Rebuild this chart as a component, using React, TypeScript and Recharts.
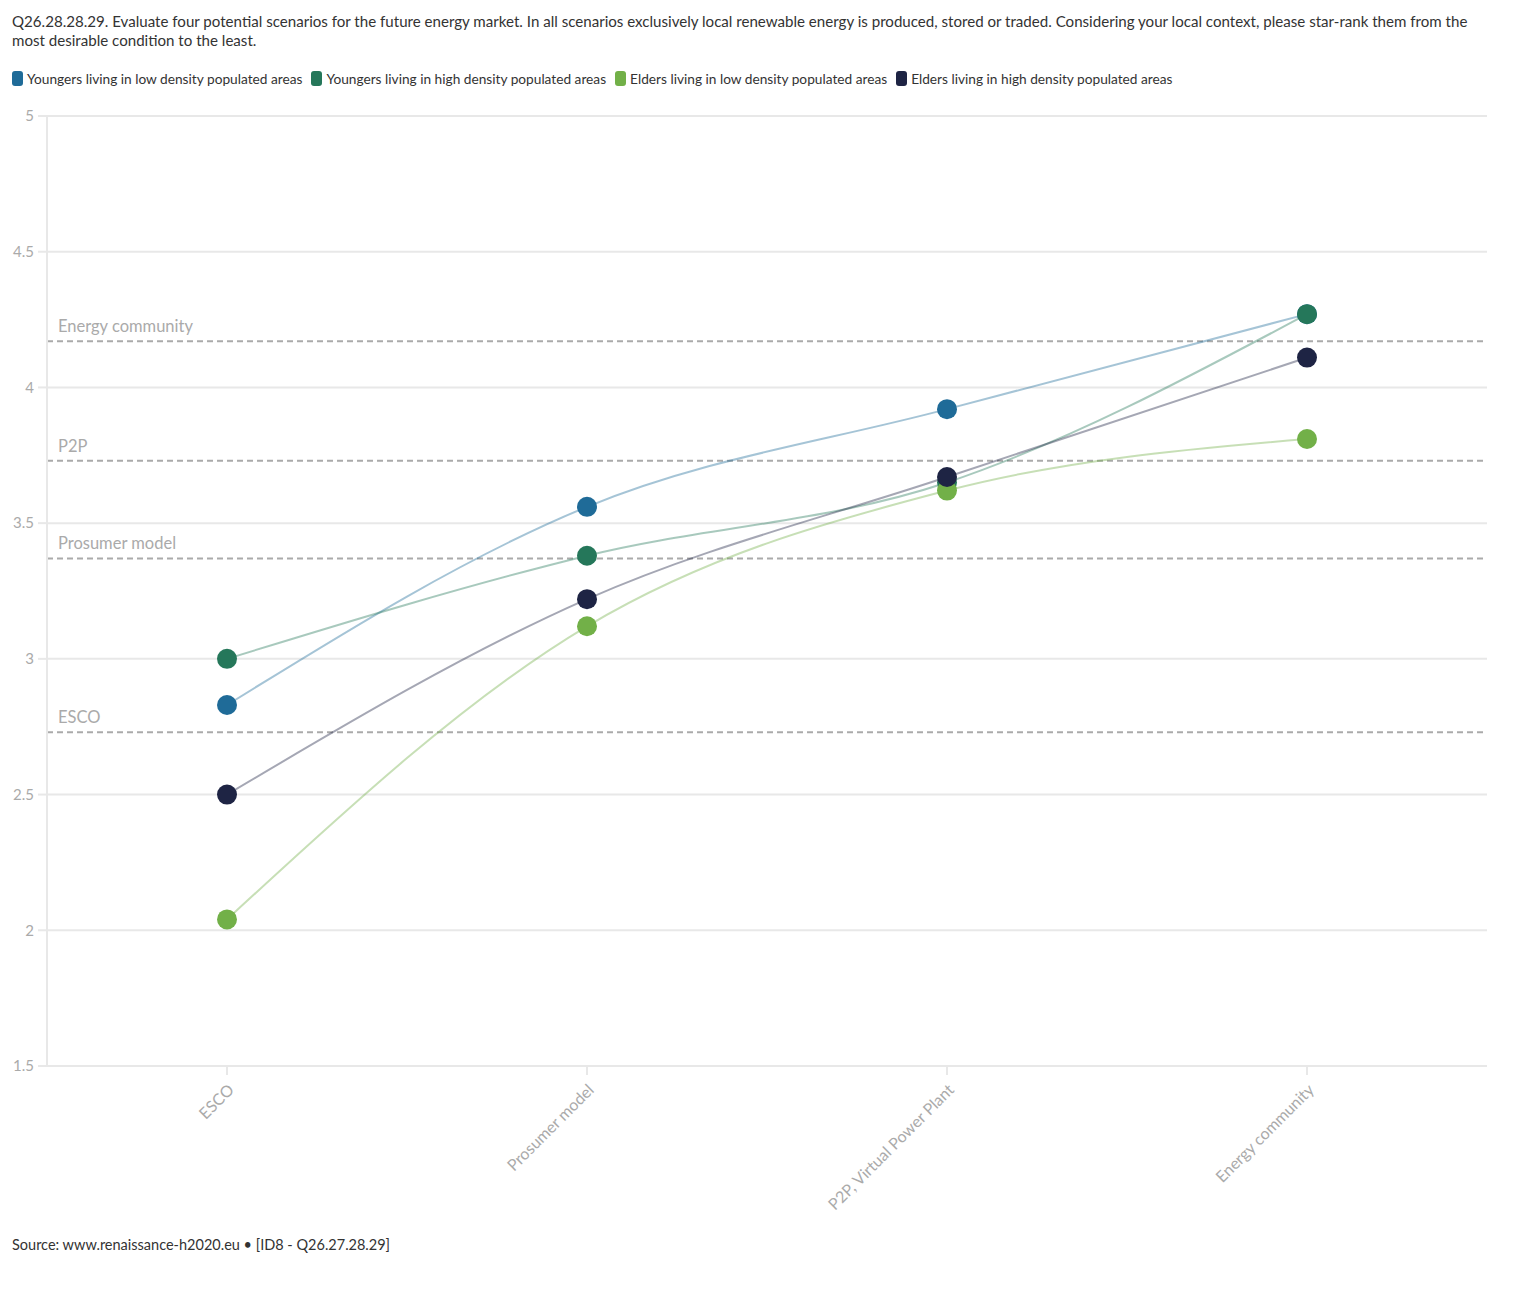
import { LineChart, Line, XAxis, YAxis, CartesianGrid, ReferenceLine } from "recharts"

const categories = ["ESCO", "Prosumer model", "P2P, Virtual Power Plant", "Energy community"]

const youngersLow = [2.83, 3.56, 3.92, 4.27]
const youngersHigh = [3.0, 3.38, 3.65, 4.27]
const eldersLow = [2.04, 3.12, 3.62, 3.81]
const eldersHigh = [2.5, 3.22, 3.67, 4.11]

const seriesNames = [
  "Youngers living in low density populated areas",
  "Youngers living in high density populated areas",
  "Elders living in low density populated areas",
  "Elders living in high density populated areas",
]
const seriesColors = ["#1f6b98", "#25775a", "#72b048", "#1e2444"]

const refLabels = ["Energy community", "P2P", "Prosumer model", "ESCO"]
const refValues = [4.17, 3.73, 3.37, 2.73]

const yTicks = [1.5, 2, 2.5, 3, 3.5, 4, 4.5, 5]

const title =
  "Q26.28.28.29. Evaluate four potential scenarios for the future energy market. In all scenarios exclusively local renewable energy is produced, stored or traded. Considering your local context, please star-rank them from the most desirable condition to the least."
const source = "Source: www.renaissance-h2020.eu • [ID8 - Q26.27.28.29]"

const FONT = "Lato, 'Noto Sans', sans-serif"

const data = categories.map((c, i) => ({
  name: c,
  s0: youngersLow[i],
  s1: youngersHigh[i],
  s2: eldersLow[i],
  s3: eldersHigh[i],
}))

function XTick(props: any) {
  const { x, y, payload } = props
  const ax = x + 8
  const ay = y + 14
  return (
    <text
      x={ax}
      y={ay}
      transform={`rotate(-45, ${ax}, ${ay})`}
      textAnchor="end"
      fill="#aaaaaa"
      fontSize={16}
      fontFamily={FONT}
    >
      {payload.value}
    </text>
  )
}

export default function App() {
  return (
    <div style={{ position: "relative", width: 1503, height: 1270, fontFamily: FONT }}>
      <div
        style={{
          position: "absolute",
          left: 4,
          top: 4,
          width: 1475,
          fontSize: 15.1,
          lineHeight: "19px",
          color: "#333",
        }}
      >
        {title}
      </div>
      <div style={{ position: "absolute", left: 4, top: 62, display: "flex", fontSize: 13.7, color: "#333" }}>
        {seriesNames.map((n, i) => (
          <div key={n} style={{ display: "flex", alignItems: "center", marginRight: 9 }}>
            <span
              style={{
                display: "inline-block",
                width: 11,
                height: 15,
                borderRadius: 3,
                background: seriesColors[i],
                marginRight: 4,
              }}
            />
            {n}
          </div>
        ))}
      </div>
      <div style={{ position: "absolute", left: 0, top: 92 }}>
        <LineChart width={1503} height={1134} data={data} margin={{ top: 16, right: 24, left: 0, bottom: 0 }}>
          <CartesianGrid vertical={false} stroke="#e8e8e8" strokeWidth={2} />
          <XAxis
            dataKey="name"
            height={168}
            stroke="#e8e8e8"
            strokeWidth={2}
            tickSize={9}
            tick={<XTick />}
            interval={0}
            padding={{ left: 180, right: 180 }}
          />
          <YAxis
            domain={[1.5, 5]}
            ticks={yTicks}
            width={39}
            stroke="#e8e8e8"
            strokeWidth={2}
            tickSize={9}
            tickMargin={4}
            tick={{ fill: "#aaaaaa", fontSize: 15, fontFamily: FONT }}
            allowDataOverflow
          />
          {refValues.map((v, i) => (
            <ReferenceLine
              key={refLabels[i]}
              y={v}
              stroke="#aaaaaa"
              strokeWidth={2}
              strokeDasharray="6 4"
              label={(p: any) => (
                <text
                  x={p.viewBox.x + 11}
                  y={p.viewBox.y - 9}
                  fill="#aaaaaa"
                  fontSize={16.5}
                  fontFamily={FONT}
                >
                  {refLabels[i]}
                </text>
              )}
            />
          ))}
          {seriesNames.map((n, i) => (
            <Line
              key={n}
              name={n}
              dataKey={`s${i}`}
              type="monotone"
              stroke={seriesColors[i]}
              strokeOpacity={0.4}
              strokeWidth={2}
              dot={{ r: 10, fill: seriesColors[i], stroke: "none", fillOpacity: 1 }}
              activeDot={false}
              isAnimationActive={false}
            />
          ))}
        </LineChart>
      </div>
      <div style={{ position: "absolute", left: 4, top: 1228, fontSize: 14.5, color: "#333" }}>{source}</div>
    </div>
  )
}
